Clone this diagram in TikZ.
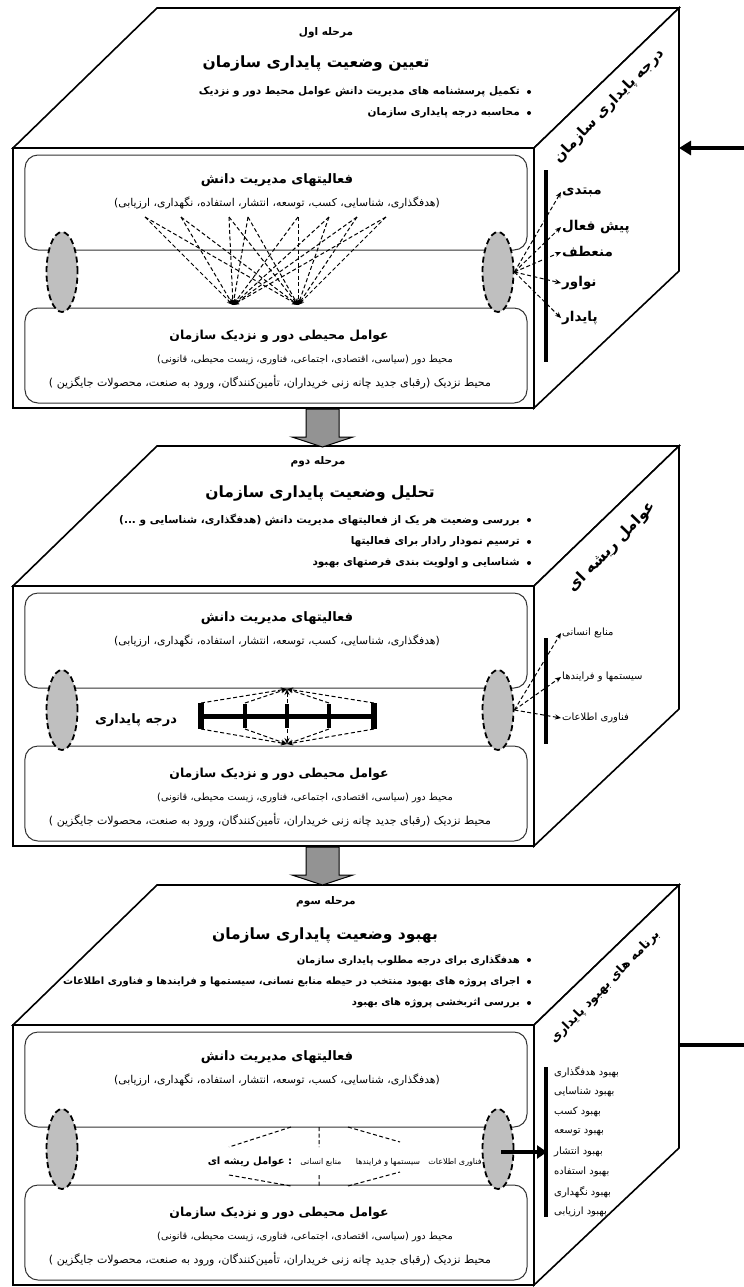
\documentclass[tikz,border=0pt]{standalone}
\usepackage{fontspec}
\newfontfamily\fa[Script=Arabic]{DejaVu Sans}
\TeXXeTstate=1
\usetikzlibrary{shapes.geometric,arrows.meta}
\newcommand{\fatx}[1]{\fa\beginR #1\endR}

\begin{document}
\begin{tikzpicture}[x=1bp,y=-1bp]
\tikzstyle{face}=[draw=black,line width=1.6bp,fill=white]
\tikzstyle{rbox}=[draw=black!80,rounded corners=13bp,line width=1bp,minimum width=502bp,minimum height=95bp,inner sep=0pt]
\tikzstyle{lens}=[ellipse,draw=black,line width=1.8bp,dash pattern=on 6bp off 3.5bp,fill=gray!50,minimum width=31bp,minimum height=80bp,inner sep=0pt]
\tikzstyle{dsh}=[line width=1bp,dash pattern=on 4bp off 2.5bp,-{Stealth[length=6bp,width=5bp]}]
\tikzstyle{bar}=[line width=4bp]
\tikzstyle{stage}=[inner sep=1pt,font=\fontsize{10.5bp}{12bp}\selectfont\bfseries]
\tikzstyle{ttl}=[inner sep=1pt,font=\fontsize{15.5bp}{17bp}\selectfont\bfseries]
\tikzstyle{blt}=[inner sep=1pt,anchor=east,font=\fontsize{10.5bp}{12bp}\selectfont\bfseries]
\tikzstyle{hd}=[inner sep=1pt,font=\fontsize{13bp}{15bp}\selectfont\bfseries]
\tikzstyle{hd2}=[inner sep=1pt,font=\fontsize{12.4bp}{14bp}\selectfont\bfseries]
\tikzstyle{sub}=[inner sep=1pt,font=\fontsize{10.8bp}{12bp}\selectfont]
\tikzstyle{sub2}=[inner sep=1pt,font=\fontsize{9.8bp}{11bp}\selectfont]
\tikzstyle{sub3}=[inner sep=1pt,font=\fontsize{11bp}{13bp}\selectfont]
\tikzstyle{side}=[inner sep=1pt,rotate=46,font=\fontsize{14.5bp}{16bp}\selectfont\bfseries]
\tikzstyle{lv}=[inner sep=1pt,anchor=west,font=\fontsize{13.5bp}{15bp}\selectfont\bfseries]
\tikzstyle{lv2}=[inner sep=1pt,anchor=west,font=\fontsize{10bp}{12bp}\selectfont]
\tikzstyle{lv3}=[inner sep=1pt,anchor=west,font=\fontsize{10bp}{12bp}\selectfont]
\tikzstyle{lv4}=[inner sep=1pt,font=\fontsize{8bp}{10bp}\selectfont]
\tikzstyle{garrow}=[draw=black,line width=1bp,fill=gray!85]

\useasboundingbox (0,0) rectangle (744,1287);

\foreach \oy/\i in {0/1,438/2,877/3}{
  \draw[face] (157,8+\oy) -- (679,8+\oy) -- (534,148+\oy) -- (13,148+\oy) -- cycle;
  \draw[face] (13,148+\oy) rectangle (534,408+\oy);
  \draw[face] (534,148+\oy) -- (679,8+\oy) -- (679,271+\oy) -- (534,408+\oy) -- cycle;
  \node[rbox] (ka\i) at (276,202.5+\oy) {};
  \node[rbox] (env\i) at (276,355.5+\oy) {};
  \node[lens] (elL\i) at (62,272+\oy) {};
  \node[lens] (elR\i) at (498,272+\oy) {};
  \node[hd] (kt\i) at (277,180+\oy) {\fatx{فعالیتهای مدیریت دانش}};
  \node[sub] (ks\i) at (277,203+\oy) {\fatx{(هدفگذاری، شناسایی، کسب، توسعه، انتشار، استفاده، نگهداری، ارزیابی)}};
  \node[hd2] (et\i) at (279,336+\oy) {\fatx{عوامل محیطی دور و نزدیک سازمان}};
  \node[sub2] (ed\i) at (305,360+\oy) {\fatx{محیط دور (سیاسی، اقتصادی، اجتماعی، فناوری، زیست محیطی، قانونی)}};
  \node[sub3] (en\i) at (270,382+\oy) {\fatx{محیط نزدیک (رقبای جدید چانه زنی خریداران، تأمین‌کنندگان، ورود به صنعت، محصولات جایگزین )}};
}

\draw[garrow] (306,409) -- (339,409) -- (339,437) -- (353,437) -- (322.5,447) -- (292,437) -- (306,437) -- cycle;
\draw[garrow] (306,847) -- (339,847) -- (339,875) -- (353,875) -- (322.5,885) -- (292,875) -- (306,875) -- cycle;

\node[stage] (st1) at (326,33) {\fatx{مرحله اول}};
\node[ttl] (tt1) at (316,63) {\fatx{تعیین وضعیت پایداری سازمان}};
\node[blt] (b11) at (521,92) {\fatx{تکمیل پرسشنامه های مدیریت دانش عوامل محیط دور و نزدیک}};
\node[blt] (b12) at (521,113) {\fatx{محاسبه درجه پایداری سازمان}};
\fill (529,92) circle (2) (529,113) circle (2);
\node[side] (sd1) at (609,106) {\fatx{درجه پایداری سازمان}};
\coordinate (in1) at (744,148);
\draw[line width=3.5bp,-{Triangle[length=12bp,width=14bp]}] (in1) -- (679,148);

\foreach \x [count=\k] in {145,181,229,248,298,329,357,386}
  \coordinate (f\k) at (\x,217);
\coordinate (fa) at (233,305);
\coordinate (fb) at (298,305);
\foreach \k in {1,...,8}{
  \draw[dsh] (f\k) -- (fa);
  \draw[dsh] (f\k) -- (fb);
}

\draw[bar] (546,170) -- (546,362);
\node[lv] (mb) at (561,192) {\fatx{مبتدی}};
\node[lv] (pf) at (561,227) {\fatx{پیش فعال}};
\node[lv] (mn) at (561,252) {\fatx{منعطف}};
\node[lv] (nv) at (561,283) {\fatx{نواور}};
\node[lv] (pd) at (561,318) {\fatx{پایدار}};
\foreach \t in {mb,pf,mn,nv,pd}
  \draw[dsh] (elR1.east) -- (\t.west);

\node[stage] (st2) at (318,462) {\fatx{مرحله دوم}};
\node[ttl] (tt2) at (320,493) {\fatx{تحلیل وضعیت پایداری سازمان}};
\node[blt] (b21) at (521,520) {\fatx{بررسی وضعیت هر یک از فعالیتهای مدیریت دانش (هدفگذاری، شناسایی و ...)}};
\node[blt] (b22) at (521,542) {\fatx{ترسیم نمودار رادار برای فعالیتها}};
\node[blt] (b23) at (521,563) {\fatx{شناسایی و اولویت بندی فرصتهای بهبود}};
\fill (529,520) circle (2) (529,542) circle (2) (529,563) circle (2);
\node[side,font=\fontsize{15.5bp}{17bp}\selectfont\bfseries] (sd2) at (612,547) {\fatx{عوامل ریشه ای}};

\draw[line width=5bp] (201,716) -- (374,716);
\foreach \x in {201,374}
  \draw[line width=6bp] (\x,703) -- (\x,729);
\foreach \x in {245,287,329}
  \draw[line width=4.5bp] (\x,704) -- (\x,728);
\coordinate (up) at (287,689);
\coordinate (dn) at (287,744);
\foreach \x [count=\k] in {201,245,287,329,374}{
  \coordinate (tu\k) at (\x,703);
  \coordinate (td\k) at (\x,729);
  \draw[dsh] (tu\k) -- (up);
  \draw[dsh] (td\k) -- (dn);
}
\node[hd] (dp) at (136,720) {\fatx{درجه پایداری}};

\draw[bar] (546,638) -- (546,744);
\node[lv2] (ms) at (561,633) {\fatx{منابع انسانی}};
\node[lv2] (sf) at (561,677) {\fatx{سیستمها و فرایندها}};
\node[lv2] (fi) at (561,718) {\fatx{فناوری اطلاعات}};
\foreach \t in {ms,sf,fi}
  \draw[dsh] (elR2.east) -- (\t.west);

\node[stage] (st3) at (326,902) {\fatx{مرحله سوم}};
\node[ttl] (tt3) at (325,935) {\fatx{بهبود وضعیت پایداری سازمان}};
\node[blt,font=\fontsize{10bp}{12bp}\selectfont\bfseries] (b31) at (521,960) {\fatx{هدفگذاری برای درجه مطلوب پایداری سازمان}};
\node[blt,font=\fontsize{10bp}{12bp}\selectfont\bfseries] (b32) at (521,982) {\fatx{اجرای پروژه های بهبود منتخب در حیطه منابع نسانی، سیستمها و فرایندها و فناوری اطلاعات}};
\node[blt,font=\fontsize{10bp}{12bp}\selectfont\bfseries] (b33) at (521,1003) {\fatx{بررسی اثربخشی پروژه های بهبود}};
\fill (529,960) circle (2) (529,982) circle (2) (529,1003) circle (2);
\node[side,font=\fontsize{12.5bp}{14bp}\selectfont\bfseries] (sd3) at (605,987) {\fatx{برنامه های بهبود پایداری}};
\coordinate (out3) at (744,1045);
\draw[line width=3.5bp] (679,1045) -- (out3);

\coordinate (d1) at (291,1127);
\coordinate (d2) at (229,1147);
\coordinate (d3) at (348,1127);
\coordinate (d4) at (400,1142);
\coordinate (d5) at (229,1175);
\coordinate (d6) at (291,1186);
\coordinate (d7) at (348,1186);
\coordinate (d8) at (400,1172);
\coordinate (d9) at (319,1127);
\coordinate (d10) at (319,1147);
\coordinate (d11) at (319,1175);
\coordinate (d12) at (319,1187);
\draw[line width=1bp,dash pattern=on 4bp off 2.5bp] (d1) -- (d2) (d3) -- (d4) (d5) -- (d6) (d7) -- (d8) (d9) -- (d10) (d11) -- (d12);
\node[lv4] (fi3) at (455,1162) {\fatx{فناوری اطلاعات}};
\node[lv4] (sf3) at (388,1162) {\fatx{سیستمها و فرایندها}};
\node[lv4] (ms3) at (321,1162) {\fatx{منابع انسانی}};
\node[hd,font=\fontsize{10bp}{12bp}\selectfont\bfseries] (rr3) at (250,1162) {\fatx{عوامل ریشه ای}\ :};

\draw[bar] (546,1067) -- (546,1217);
\foreach \t [count=\k] in {هدفگذاری,شناسایی,کسب,توسعه,انتشار,استفاده,نگهداری,ارزیابی}
  \node[lv3] (bh\k) at (553,1052+20*\k) {\fatx{بهبود \t}};
\coordinate (ar3) at (501,1152);
\coordinate (br3) at (547,1152);
\draw[line width=3.5bp,-{Triangle[length=10bp,width=13bp]}] (ar3) -- (br3);
\end{tikzpicture}
\end{document}
